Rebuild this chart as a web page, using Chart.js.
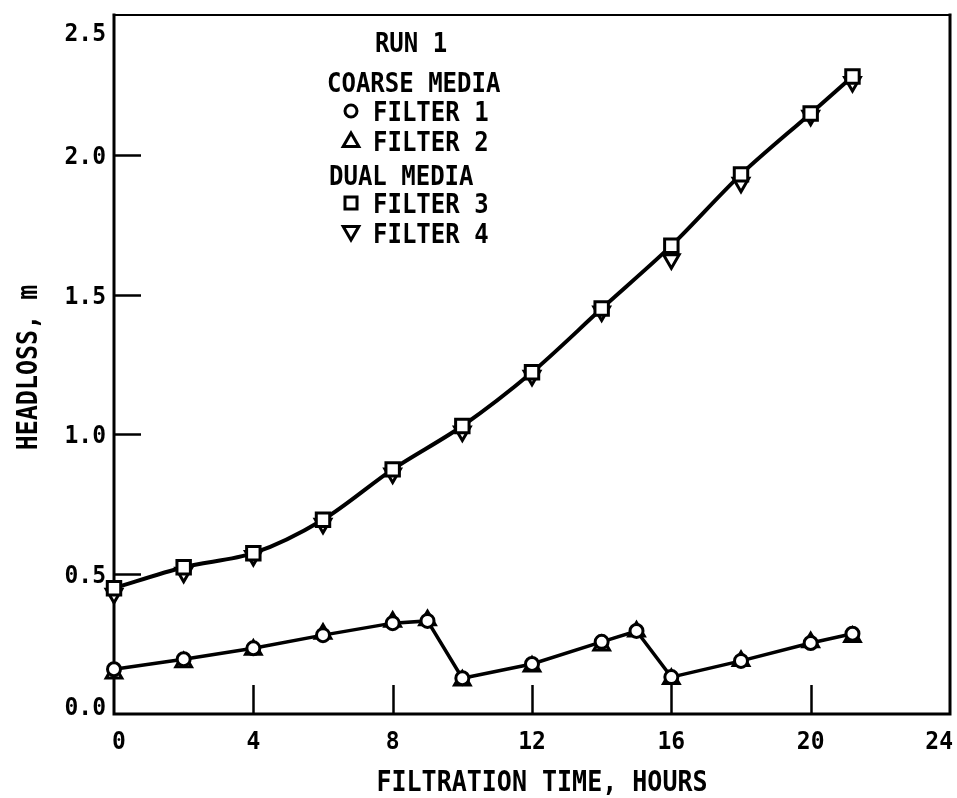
<!DOCTYPE html>
<html>
<head>
<meta charset="utf-8">
<script src="https://cdn.jsdelivr.net/npm/chart.js@4/dist/chart.umd.min.js"></script>
<style>
  html, body { margin: 0; padding: 0; background: #fff; }
  #wrap { width: 957px; height: 798px; }
</style>
</head>
<body>
<div id="wrap"><canvas id="chart" width="957" height="798"></canvas></div>
<script>
// Run 1 headloss readings, metres of water, against filtration time in hours
const coarseHours = [0, 2, 4, 6, 8, 9, 10, 12, 14, 15, 16, 18, 20, 21.2];
const filter1 = [0.16, 0.196, 0.235, 0.282, 0.325, 0.333, 0.128, 0.179, 0.258, 0.297, 0.132, 0.19, 0.254, 0.287];
const filter2 = [0.145, 0.185, 0.23, 0.287, 0.33, 0.335, 0.12, 0.17, 0.245, 0.295, 0.125, 0.19, 0.257, 0.275];

const dualHours = [0, 2, 4, 6, 8, 10, 12, 14, 16, 18, 20, 21.2];
const filter3 = [0.45, 0.525, 0.575, 0.695, 0.875, 1.03, 1.222, 1.45, 1.675, 1.93, 2.148, 2.28];
const filter4 = [0.43, 0.505, 0.565, 0.68, 0.86, 1.01, 1.21, 1.44, 1.626, 1.90, 2.14, 2.26];

// axis ticks and their printed labels
const xTickValues = [0, 4, 8, 12, 16, 20, 24];
const xTickLabels = ['0', '4', '8', '12', '16', '20', '24'];
const yTickValues = [0, 0.5, 1.0, 1.5, 2.0, 2.5];
const yTickLabels = ['0.0', '0.5', '1.0', '1.5', '2.0', '2.5'];

const xTitle = 'FILTRATION TIME, HOURS';
const yTitle = 'HEADLOSS, m';

// key text inside the plot
const keyHeading = 'RUN 1';
const coarseHeading = 'COARSE MEDIA';
const dualHeading = 'DUAL MEDIA';
const seriesNames = ['FILTER 1', 'FILTER 2', 'FILTER 3', 'FILTER 4'];

const FONT = '"DejaVu Sans Mono", "Liberation Mono", monospace';

const pairs = (xs, ys) => xs.map((x, i) => ({ x, y: ys[i] }));

const markerBase = {
  pointBackgroundColor: '#fff',
  pointBorderColor: '#000',
  pointBorderWidth: 3,
  borderColor: '#000',
  clip: false
};

const styles = {
  f1: { pointStyle: 'circle', radius: 6.5, rotation: 0 },
  f2: { pointStyle: 'triangle', radius: 9, rotation: 0 },
  f3: { pointStyle: 'rect', radius: 9.5, rotation: 0 },
  f4: { pointStyle: 'triangle', radius: 9, rotation: 180 }
};

function drawMarker(ctx, st, x, y) {
  ctx.save();
  ctx.fillStyle = '#fff';
  ctx.strokeStyle = '#000';
  ctx.lineWidth = 3;
  if (Chart.helpers && Chart.helpers.drawPoint) {
    Chart.helpers.drawPoint(ctx, { pointStyle: st.pointStyle, radius: st.radius, rotation: st.rotation, borderWidth: 3 }, x, y);
  }
  ctx.restore();
}

// text drawn slightly taller than the font's natural proportions
function tallText(ctx, str, x, y, stretch) {
  ctx.save();
  ctx.translate(x, y);
  ctx.scale(1, stretch);
  ctx.fillText(str, 0, 0);
  ctx.restore();
}

// frame and inward-pointing tick marks, under the data
const framePlugin = {
  id: 'frame',
  beforeDatasetsDraw(chart) {
    const { ctx, chartArea: a, scales: { x, y } } = chart;
    ctx.save();
    ctx.strokeStyle = '#000';
    ctx.lineCap = 'square';
    ctx.lineWidth = 2.2;
    ctx.beginPath();
    ctx.moveTo(a.left, a.top);
    ctx.lineTo(a.right, a.top);
    ctx.stroke();
    ctx.lineWidth = 3;
    ctx.beginPath();
    ctx.moveTo(a.left, a.top);
    ctx.lineTo(a.left, a.bottom);
    ctx.lineTo(a.right, a.bottom);
    ctx.lineTo(a.right, a.top);
    ctx.stroke();

    ctx.lineCap = 'butt';
    ctx.lineWidth = 2.5;
    x.ticks.forEach(t => {
      if (t.value <= x.min || t.value >= x.max) return;
      const px = Math.round(x.getPixelForValue(t.value)) + 0.5;
      ctx.beginPath();
      ctx.moveTo(px, a.bottom);
      ctx.lineTo(px, a.bottom - 29);
      ctx.stroke();
    });
    y.ticks.forEach(t => {
      if (t.value <= y.min || t.value >= y.max) return;
      const py = Math.round(y.getPixelForValue(t.value)) + 0.5;
      ctx.beginPath();
      ctx.moveTo(a.left, py);
      ctx.lineTo(a.left + 27, py);
      ctx.stroke();
    });
    ctx.restore();
  }
};

// tick labels, axis titles and the key
const textPlugin = {
  id: 'texts',
  afterDraw(chart) {
    const { ctx, chartArea: a, scales: { x, y }, width } = chart;
    ctx.save();
    ctx.fillStyle = '#000';
    ctx.textBaseline = 'alphabetic';

    // x tick labels
    ctx.font = 'bold 23px ' + FONT;
    ctx.textAlign = 'center';
    x.ticks.forEach((t, i) => {
      const label = xTickLabels[i];
      const w = ctx.measureText(label).width;
      let px = x.getPixelForValue(t.value);
      if (i === 0) px += 5;
      px = Math.min(px, width - w / 2 - 4);
      tallText(ctx, label, px, a.bottom + 35, 1.05);
    });

    // y tick labels
    ctx.textAlign = 'right';
    y.ticks.forEach((t, i) => {
      let cy = y.getPixelForValue(t.value);
      cy = Math.max(cy, a.top + 17);
      cy = Math.min(cy, a.bottom - 8);
      tallText(ctx, yTickLabels[i], a.left - 8, cy + 9, 1.05);
    });

    // axis titles
    ctx.font = 'bold 25px ' + FONT;
    ctx.textAlign = 'center';
    tallText(ctx, xTitle, (a.left + a.right) / 2 + 10, a.bottom + 77, 1.1);
    ctx.save();
    ctx.translate(37, (a.top + a.bottom) / 2 + 3);
    ctx.rotate(-Math.PI / 2);
    ctx.scale(1, 1.1);
    ctx.fillText(yTitle, 0, 0);
    ctx.restore();

    // key, positioned from the plot's upper-left corner
    const kx = a.left;
    const ky = a.top;
    ctx.font = 'bold 24px ' + FONT;
    ctx.textAlign = 'center';
    tallText(ctx, keyHeading, kx + 297, ky + 37, 1.1);
    ctx.textAlign = 'left';
    tallText(ctx, coarseHeading, kx + 213, ky + 77, 1.1);
    tallText(ctx, seriesNames[0], kx + 259, ky + 106, 1.1);
    tallText(ctx, seriesNames[1], kx + 259, ky + 136, 1.1);
    tallText(ctx, dualHeading, kx + 215, ky + 170, 1.1);
    tallText(ctx, seriesNames[2], kx + 259, ky + 198, 1.1);
    tallText(ctx, seriesNames[3], kx + 259, ky + 228, 1.1);

    drawMarker(ctx, { pointStyle: 'circle', radius: 6, rotation: 0 }, kx + 237, ky + 96);
    drawMarker(ctx, { pointStyle: 'triangle', radius: 9, rotation: 0 }, kx + 237, ky + 127);
    drawMarker(ctx, { pointStyle: 'rect', radius: 8.5, rotation: 0 }, kx + 237, ky + 188);
    drawMarker(ctx, { pointStyle: 'triangle', radius: 9, rotation: 180 }, kx + 237, ky + 216);

    ctx.restore();
  }
};

new Chart(document.getElementById('chart'), {
  type: 'scatter',
  data: {
    datasets: [
      Object.assign({}, markerBase, {
        label: seriesNames[0],
        data: pairs(coarseHours, filter1),
        showLine: true,
        borderWidth: 3.5,
        tension: 0,
        pointStyle: styles.f1.pointStyle,
        pointRadius: styles.f1.radius
      }),
      Object.assign({}, markerBase, {
        label: seriesNames[2],
        data: pairs(dualHours, filter3),
        showLine: true,
        borderWidth: 4,
        tension: 0.3,
        pointStyle: styles.f3.pointStyle,
        pointRadius: styles.f3.radius
      }),
      Object.assign({}, markerBase, {
        label: seriesNames[1],
        data: pairs(coarseHours, filter2),
        showLine: false,
        pointStyle: styles.f2.pointStyle,
        pointRadius: styles.f2.radius
      }),
      Object.assign({}, markerBase, {
        label: seriesNames[3],
        data: pairs(dualHours, filter4),
        showLine: false,
        pointStyle: styles.f4.pointStyle,
        pointRadius: styles.f4.radius,
        pointRotation: styles.f4.rotation
      })
    ]
  },
  options: {
    responsive: false,
    animation: false,
    devicePixelRatio: 1,
    layout: { autoPadding: false, padding: { top: 15, right: 7, left: 0, bottom: 0 } },
    plugins: { legend: { display: false }, tooltip: { enabled: false } },
    scales: {
      x: {
        type: 'linear', min: 0, max: 24,
        ticks: { display: false },
        grid: { display: false },
        border: { display: false },
        afterBuildTicks(s) { s.ticks = xTickValues.map(v => ({ value: v })); },
        afterFit(s) { s.height = 84; s.paddingLeft = 0; s.paddingRight = 0; }
      },
      y: {
        type: 'linear', min: 0, max: 2.5,
        ticks: { display: false },
        grid: { display: false },
        border: { display: false },
        afterBuildTicks(s) { s.ticks = yTickValues.map(v => ({ value: v })); },
        afterFit(s) { s.width = 114; s.paddingTop = 0; s.paddingBottom = 0; }
      }
    }
  },
  plugins: [framePlugin, textPlugin]
});
</script>
</body>
</html>
